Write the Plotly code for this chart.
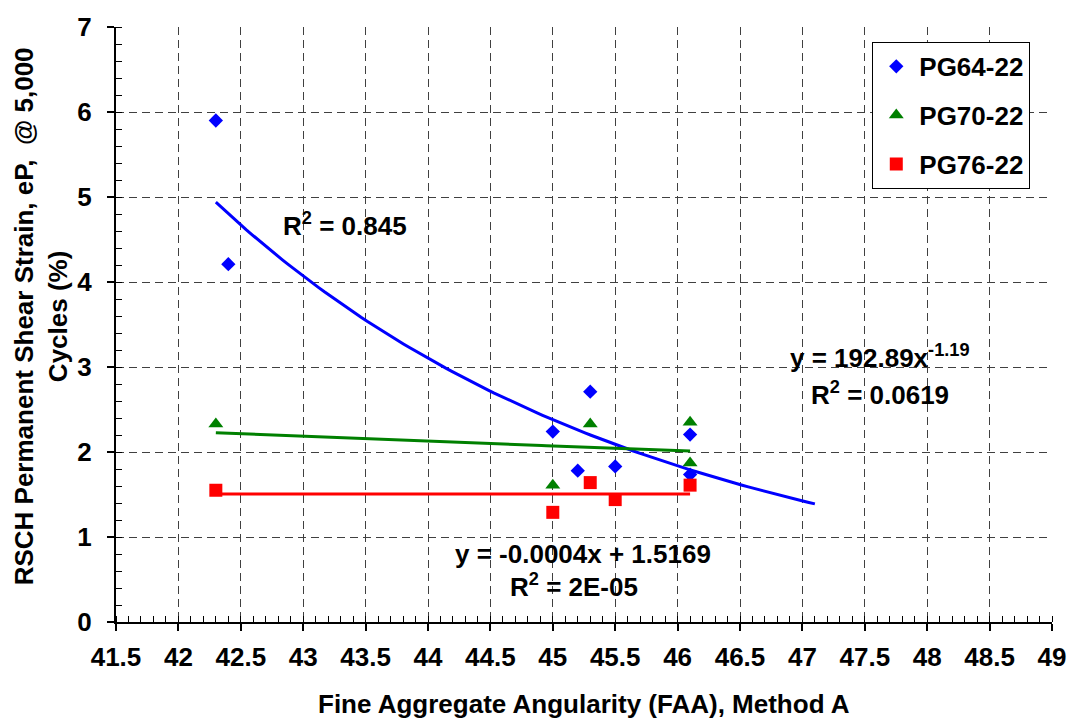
import numpy as np
import plotly.graph_objects as go

# ---- data ----
pg64_x = [42.3, 42.4, 45.0, 45.3, 45.2, 45.5, 46.1, 46.1]
pg64_y = [5.90, 4.21, 2.24, 2.71, 1.78, 1.83, 2.205, 1.735]
pg70_x = [42.3, 45.0, 45.3, 46.1, 46.1]
pg70_y = [2.33, 1.61, 2.33, 2.35, 1.87]
pg76_x = [42.3, 45.0, 45.3, 45.5, 46.1]
pg76_y = [1.55, 1.29, 1.64, 1.44, 1.61]
x_ticks = [41.5, 42, 42.5, 43, 43.5, 44, 44.5, 45, 45.5, 46, 46.5, 47, 47.5, 48, 48.5, 49]
y_ticks = [0, 1, 2, 3, 4, 5, 6, 7]

FONT = "Liberation Sans, Arial, sans-serif"
BLUE, GREEN, RED = "#0000FF", "#008000", "#FF0000"

# ---- trendlines (regression fits of the data, as in the spreadsheet) ----
def power_fit(x, y, x0, x1):
    b, lna = np.polyfit(np.log(x), np.log(y), 1)
    xs = np.linspace(x0, x1, 100)
    return xs, np.exp(lna) * xs ** b

def linear_fit(x, y, x0, x1):
    m, c = np.polyfit(x, y, 1)
    xs = np.linspace(x0, x1, 2)
    return xs, m * xs + c

bx, by = power_fit(pg64_x, pg64_y, min(pg64_x), max(pg64_x) + 1.0)
gx, gy = power_fit(pg70_x, pg70_y, min(pg70_x), max(pg70_x))
rx, ry = linear_fit(pg76_x, pg76_y, min(pg76_x), max(pg76_x))

fig = go.Figure()
fig.add_trace(go.Scatter(x=bx, y=by, mode="lines", line=dict(color=BLUE, width=3), showlegend=False, hoverinfo="skip"))
fig.add_trace(go.Scatter(x=gx, y=gy, mode="lines", line=dict(color=GREEN, width=3), showlegend=False, hoverinfo="skip"))
fig.add_trace(go.Scatter(x=rx, y=ry, mode="lines", line=dict(color=RED, width=3), showlegend=False, hoverinfo="skip"))

fig.add_trace(go.Scatter(x=pg64_x, y=pg64_y, mode="markers", name="PG64-22", legendgroup="a",
                         marker=dict(symbol="diamond", size=11, color=BLUE)))
fig.add_trace(go.Scatter(x=pg70_x, y=pg70_y, mode="markers", name="PG70-22", legendgroup="b",
                         marker=dict(symbol="triangle-up", size=13, color=GREEN)))
fig.add_trace(go.Scatter(x=pg76_x, y=pg76_y, mode="markers", name="PG76-22", legendgroup="c",
                         marker=dict(symbol="square", size=13, color=RED)))

grid = dict(showgrid=True, gridcolor="#404040", gridwidth=1, griddash="8px,5px")
TICKFONT = dict(size=26, color="black", family=FONT, weight="bold")

fig.update_xaxes(range=[41.5, 49], tickvals=x_ticks, ticktext=[f"{v:g}" for v in x_ticks],
                 showline=True, linecolor="black", linewidth=2, ticks="outside", ticklen=7,
                 tickcolor="black", tickwidth=1.5, zeroline=False,
                 minor=dict(dtick=0.1, ticks="inside", ticklen=6, tickcolor="black", tickwidth=1, showgrid=False),
                 tickfont=TICKFONT, ticklabelstandoff=4, **grid)
fig.update_yaxes(range=[0, 7], tickvals=y_ticks, ticktext=[str(v) for v in y_ticks],
                 showline=True, linecolor="black", linewidth=2, ticks="outside", ticklen=7,
                 tickcolor="black", tickwidth=1.5, zeroline=False,
                 minor=dict(dtick=0.2, ticks="inside", ticklen=6, tickcolor="black", tickwidth=1, showgrid=False),
                 tickfont=TICKFONT, ticklabelstandoff=10, **grid)

ann_font = dict(size=26, color="black", family=FONT, weight="bold")
annotations = [
    dict(x=43.337, y=4.68, text="R<sup>2</sup> = 0.845"),
    dict(x=47.62, y=3.12, text="y = 192.89x<sup>-1.19</sup>"),
    dict(x=47.62, y=2.69, text="R<sup>2</sup> = 0.0619"),
    dict(x=45.24, y=0.80, text="y = -0.0004x + 1.5169"),
    dict(x=45.17, y=0.43, text="R<sup>2</sup> = 2E-05"),
]
for a in annotations:
    fig.add_annotation(xref="x", yref="y", showarrow=False, xanchor="center", yanchor="middle",
                       font=ann_font, **a)

# axis titles
fig.add_annotation(xref="paper", yref="paper", x=0.5, y=-0.1374, showarrow=False,
                   text="Fine Aggregate Angularity (FAA), Method A", xanchor="center", yanchor="middle",
                   font=dict(size=26, color="black", family=FONT, weight="bold"))
fig.add_annotation(xref="paper", yref="paper", x=-0.0806, y=0.513, showarrow=False, textangle=-90,
                   text="RSCH Permanent Shear Strain, eP,  @ 5,000<br>Cycles (%)",
                   xanchor="center", yanchor="middle",
                   font=dict(size=26, color="black", family=FONT, weight="bold"))

fig.update_layout(
    width=1078, height=721,
    margin=dict(l=116, r=19, t=18, b=99),
    paper_bgcolor="white", plot_bgcolor="white",
    font=dict(family=FONT, color="black", weight="bold"),
    legend=dict(x=0.808, y=0.975, xanchor="left", yanchor="top",
                bgcolor="white", bordercolor="black", borderwidth=1,
                font=dict(size=26, color="black", family=FONT, weight="bold"),
                traceorder="grouped", tracegroupgap=12, itemwidth=36),
    showlegend=True,
)

fig.write_html("out.html")
